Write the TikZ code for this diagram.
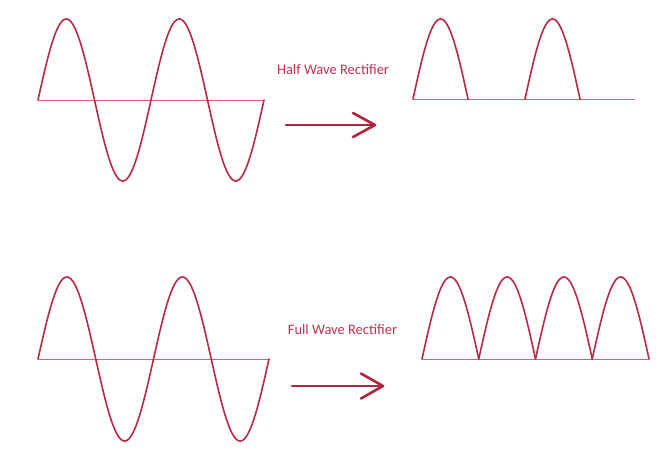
\documentclass[tikz,border=0pt]{standalone}
\usepackage{fontspec}
\setmainfont{Carlito}
\definecolor{wave}{HTML}{B82A45}
\definecolor{axisc}{HTML}{D8607C}
\definecolor{labelc}{HTML}{C4304F}
\definecolor{arrowc}{HTML}{B0263F}
\tikzset{
  wavestyle/.style={draw=wave, line width=1.6pt, line join=round, line cap=round},
  axisstyle/.style={draw=axisc, line width=0.8pt},
  arrowstyle/.style={draw=arrowc, line width=2.6pt, line cap=round, line join=round},
  lbl/.style={text=labelc, font=\fontsize{14.5}{17}\selectfont, inner sep=0pt}
}
\begin{document}
\begin{tikzpicture}[x=1pt,y=-1pt]
\useasboundingbox (0,0) rectangle (660,456);
% ---------- top: input sine ----------
\draw[axisstyle] (38,100) -- (264,100);
\draw[wavestyle] plot[domain=0:226, samples=240, smooth] ({38+\x},{100-81*sin(\x/113*360)});
% ---------- top: label and arrow ----------
\node[lbl] (hwr) at (333,70) {Half Wave Rectifier};
\coordinate (a1s) at (286,125);
\coordinate (a1e) at (375,125);
\draw[arrowstyle] (a1s) -- (a1e);
\draw[arrowstyle] ([shift={(-22,-12)}]a1e) -- (a1e) -- ([shift={(-22,12)}]a1e);
% ---------- top: half wave output ----------
\draw[axisstyle] (413,99.5) -- (635,99.5);
\draw[wavestyle] plot[domain=0:55, samples=80, smooth] ({413+\x},{99-80*sin(\x/55*180)});
\draw[wavestyle] plot[domain=0:55, samples=80, smooth] ({525+\x},{99-80*sin(\x/55*180)});
% ---------- bottom: input sine ----------
\draw[axisstyle] (38,359) -- (269,359);
\draw[wavestyle] plot[domain=0:231, samples=240, smooth] ({38+\x},{359-82*sin(\x/115.5*360)});
% ---------- bottom: label and arrow ----------
\node[lbl] (fwr) at (342.5,330) {Full Wave Rectifier};
\coordinate (a2s) at (292,386);
\coordinate (a2e) at (383,386);
\draw[arrowstyle] (a2s) -- (a2e);
\draw[arrowstyle] ([shift={(-22,-12.5)}]a2e) -- (a2e) -- ([shift={(-22,12.5)}]a2e);
% ---------- bottom: full wave output ----------
\draw[axisstyle] (422,359.5) -- (649,359.5);
\foreach \k in {0,1,2,3}{
  \draw[wavestyle] plot[domain=0:56.75, samples=80, smooth] ({422+56.75*\k+\x},{359-82*sin(\x/56.75*180)});
}
\end{tikzpicture}
\end{document}
